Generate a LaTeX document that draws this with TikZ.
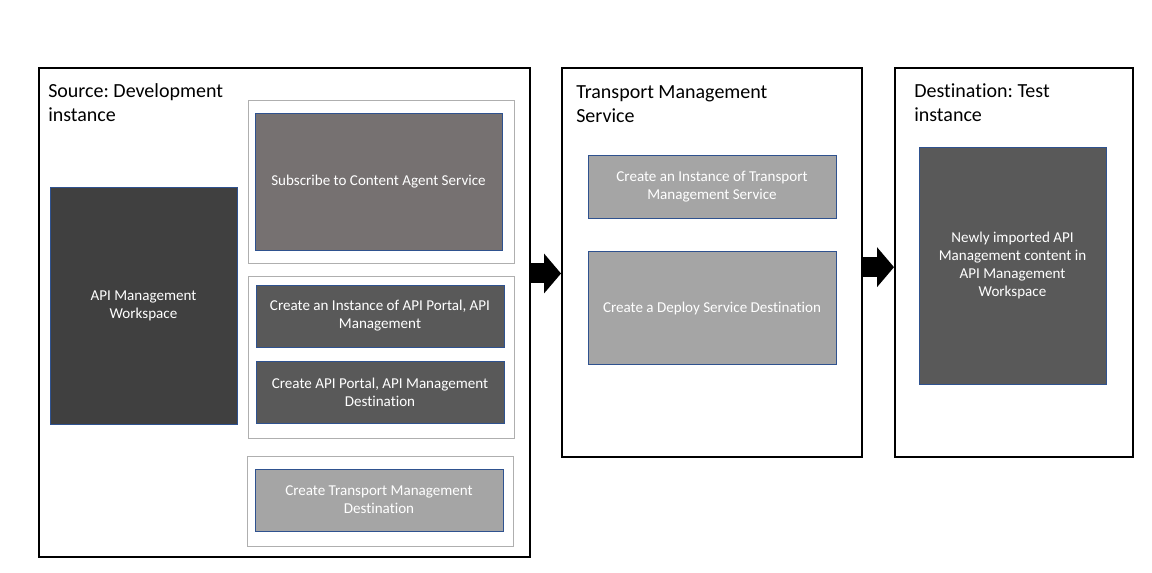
\documentclass[tikz,border=0pt]{standalone}
\usepackage{fontspec}
\setmainfont[Ligatures=NoCommon]{Carlito}
\usepackage{tikz}
\usetikzlibrary{positioning, arrows.meta}
\usetikzlibrary{calc}
\definecolor{boxborder}{RGB}{47, 82, 143}
\definecolor{groupline}{RGB}{175, 175, 175}
\definecolor{wsgray}{RGB}{64, 64, 64}
\definecolor{subgray}{RGB}{118, 113, 113}
\definecolor{stepgray}{RGB}{89, 89, 89}
\definecolor{lightstep}{RGB}{165, 165, 165}
\frenchspacing

\begin{document}
\begin{tikzpicture}[x=0.75pt, y=-0.75pt,
    stagebox/.style={draw=black, line width=1.5pt, fill=white, minimum height=291.75pt},
    stagetitle/.style={anchor=north west, align=left, inner sep=0pt, font=\fontsize{15}{18}\selectfont, text=black},
    groupbox/.style={draw=groupline, line width=0.7pt, minimum width=199.5pt},
    stepbox/.style={draw=boxborder, line width=0.6pt, align=center, text=white, font=\fontsize{11.3}{13.5}\selectfont, minimum width=186pt, minimum height=46.5pt},
    bigarrow/.style={-{Triangle[width=30pt, length=12.75pt, line width=0pt]}, line width=15pt, black}
]
    \useasboundingbox (0,0) rectangle (1152,573);

    % Nodos
    \node (src) [stagebox, minimum width=368.25pt, minimum height=366.75pt] at (284.5,312.5) {};
    \node (tms) [stagebox, minimum width=225pt, right=22.5pt of src.north east, anchor=north west] {};
    \node (dst) [stagebox, minimum width=178.5pt, right=23.25pt of tms.north east, anchor=north west] {};

    \node (srctitle) [stagetitle] at ([xshift=7.5pt, yshift=-12pt]src.north west) {Source: Development\\instance};
    \node (tmstitle) [stagetitle] at ([xshift=11.25pt, yshift=-13.5pt]tms.north west) {Transport Management\\Service};
    \node (dsttitle) [stagetitle] at ([xshift=15pt, yshift=-12pt]dst.north west) {Destination: Test\\instance};

    \node (ws) [stepbox, fill=wsgray, minimum width=140.25pt, minimum height=177.75pt] at (143.5,305.5) {API Management\\Workspace};

    \node (grp1) [groupbox, minimum height=122.25pt] at (381,181.5) {};
    \node (sub) [stepbox, fill=subgray, minimum width=185.25pt, minimum height=102.75pt] at (378.5,181.5) {Subscribe to Content Agent Service};

    \node (grp2) [groupbox, minimum height=121.5pt] at (381,357) {};
    \node (apiinst) [stepbox, fill=stepgray] at (380,316) {Create an Instance of API Portal, API\\Management};
    \node (apidest) [stepbox, fill=stepgray, below=10.5pt of apiinst] {Create API Portal, API Management\\Destination};

    \node (grp3) [groupbox, minimum height=67.5pt] at (380,501) {};
    \node (tmdest) [stepbox, fill=lightstep] at (379,500) {Create Transport Management\\Destination};

    \node (tmsinst) [stepbox, fill=lightstep, minimum height=47.25pt] at (712,186.5) {Create an Instance of Transport\\Management Service};
    \node (deploy) [stepbox, fill=lightstep, minimum height=84.75pt, below=24.75pt of tmsinst] {Create a Deploy Service Destination};

    \node (newapi) [stepbox, fill=stepgray, minimum width=140.25pt, minimum height=177.75pt] at (1012.5,265.5) {Newly imported API\\Management content in\\API Management\\Workspace};

    % Flechas
    \draw [bigarrow] ($(src.east |- tms.west)+(0,-8.25pt)$) -- ([yshift=-8.25pt]tms.west);
    \draw [bigarrow] ([yshift=-3.5pt]tms.east) -- ([yshift=-3.5pt]dst.west);
\end{tikzpicture}
\end{document}
